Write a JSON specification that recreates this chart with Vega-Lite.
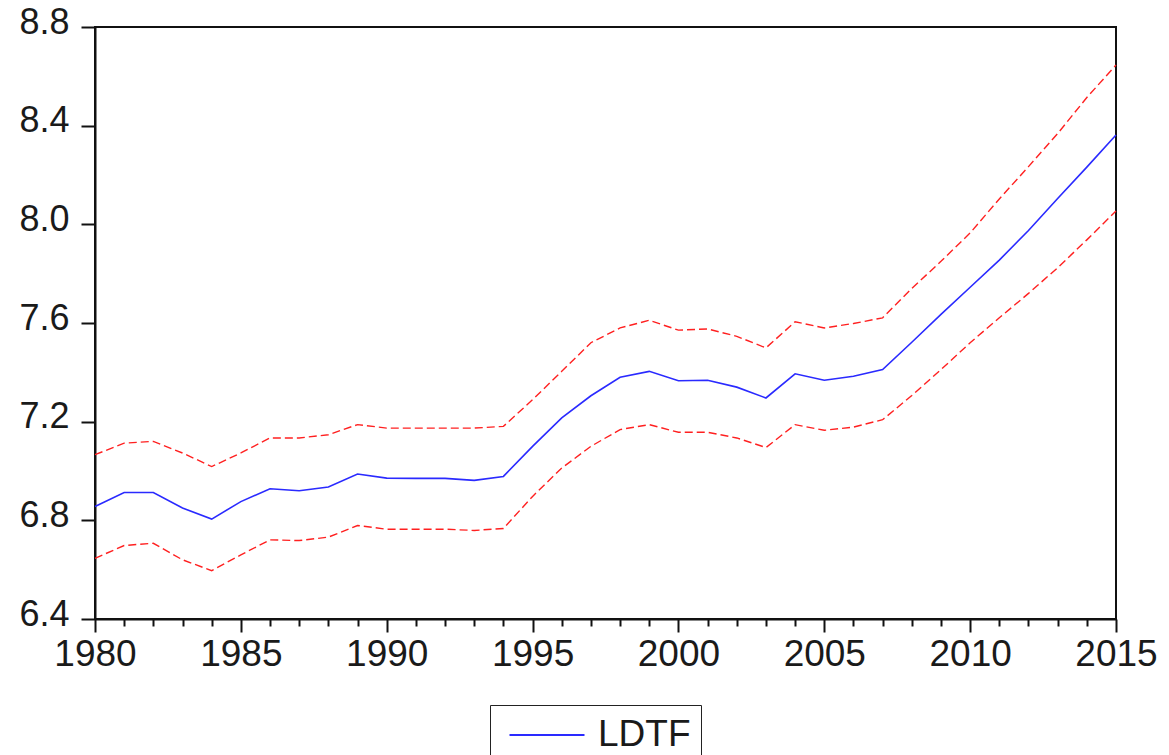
{
  "$schema": "https://vega.github.io/schema/vega-lite/v6.json",
  "autosize": {"type": "none"},
  "padding": {"left": 95, "top": 27, "right": 53, "bottom": 136},
  "width": 1021,
  "height": 592,
  "background": "white",
  "config": {
    "font": "Liberation Sans",
    "view": {"stroke": "#111111", "strokeWidth": 2},
    "axis": {
      "grid": false,
      "ticks": true,
      "domainColor": "#111111",
      "domainWidth": 2,
      "tickColor": "#111111",
      "tickWidth": 2,
      "labelColor": "#1a1a1a",
      "labelFont": "Liberation Sans",
      "title": null
    }
  },
  "data": {
    "values": [
      {"year": 1980, "ldtf": 6.856, "upper": 7.066, "lower": 6.646},
      {"year": 1981, "ldtf": 6.913, "upper": 7.113, "lower": 6.698},
      {"year": 1982, "ldtf": 6.913, "upper": 7.120, "lower": 6.707},
      {"year": 1983, "ldtf": 6.850, "upper": 7.073, "lower": 6.640},
      {"year": 1984, "ldtf": 6.805, "upper": 7.018, "lower": 6.596},
      {"year": 1985, "ldtf": 6.876, "upper": 7.073, "lower": 6.660},
      {"year": 1986, "ldtf": 6.928, "upper": 7.134, "lower": 6.721},
      {"year": 1987, "ldtf": 6.920, "upper": 7.134, "lower": 6.718},
      {"year": 1988, "ldtf": 6.935, "upper": 7.147, "lower": 6.732},
      {"year": 1989, "ldtf": 6.988, "upper": 7.188, "lower": 6.779},
      {"year": 1990, "ldtf": 6.971, "upper": 7.174, "lower": 6.764},
      {"year": 1991, "ldtf": 6.970, "upper": 7.174, "lower": 6.764},
      {"year": 1992, "ldtf": 6.970, "upper": 7.174, "lower": 6.764},
      {"year": 1993, "ldtf": 6.962, "upper": 7.174, "lower": 6.759},
      {"year": 1994, "ldtf": 6.978, "upper": 7.181, "lower": 6.767},
      {"year": 1995, "ldtf": 7.100, "upper": 7.289, "lower": 6.897},
      {"year": 1996, "ldtf": 7.215, "upper": 7.404, "lower": 7.012},
      {"year": 1997, "ldtf": 7.305, "upper": 7.520, "lower": 7.100},
      {"year": 1998, "ldtf": 7.380, "upper": 7.580, "lower": 7.168},
      {"year": 1999, "ldtf": 7.404, "upper": 7.611, "lower": 7.188},
      {"year": 2000, "ldtf": 7.366, "upper": 7.571, "lower": 7.157},
      {"year": 2001, "ldtf": 7.368, "upper": 7.576, "lower": 7.157},
      {"year": 2002, "ldtf": 7.340, "upper": 7.546, "lower": 7.134},
      {"year": 2003, "ldtf": 7.296, "upper": 7.499, "lower": 7.095},
      {"year": 2004, "ldtf": 7.394, "upper": 7.605, "lower": 7.188},
      {"year": 2005, "ldtf": 7.368, "upper": 7.580, "lower": 7.165},
      {"year": 2006, "ldtf": 7.384, "upper": 7.598, "lower": 7.178},
      {"year": 2007, "ldtf": 7.411, "upper": 7.621, "lower": 7.208},
      {"year": 2008, "ldtf": 7.522, "upper": 7.740, "lower": 7.306},
      {"year": 2009, "ldtf": 7.635, "upper": 7.850, "lower": 7.411},
      {"year": 2010, "ldtf": 7.745, "upper": 7.965, "lower": 7.520},
      {"year": 2011, "ldtf": 7.855, "upper": 8.103, "lower": 7.621},
      {"year": 2012, "ldtf": 7.975, "upper": 8.234, "lower": 7.720},
      {"year": 2013, "ldtf": 8.105, "upper": 8.368, "lower": 7.824},
      {"year": 2014, "ldtf": 8.232, "upper": 8.514, "lower": 7.937},
      {"year": 2015, "ldtf": 8.362, "upper": 8.646, "lower": 8.054}
    ]
  },
  "encoding": {
    "x": {
      "field": "year",
      "type": "quantitative",
      "scale": {"domain": [1980, 2015], "nice": false, "zero": false},
      "axis": {
        "values": [1980, 1981, 1982, 1983, 1984, 1985, 1986, 1987, 1988, 1989, 1990, 1991, 1992, 1993, 1994, 1995, 1996, 1997, 1998, 1999, 2000, 2001, 2002, 2003, 2004, 2005, 2006, 2007, 2008, 2009, 2010, 2011, 2012, 2013, 2014, 2015],
        "format": "d",
        "labelExpr": "datum.value % 5 === 0 ? datum.label : ''",
        "labelOverlap": false,
        "labelFontSize": 37,
        "labelPadding": 4,
        "labelFlush": false,
        "tickSize": {"condition": {"test": "datum.value % 5 === 0", "value": 13}, "value": 7}
      }
    }
  },
  "layer": [
    {
      "mark": {"type": "line", "color": "#ff2020", "strokeWidth": 1.4, "strokeDash": [8, 4]},
      "encoding": {
        "y": {
          "field": "upper",
          "type": "quantitative",
          "scale": {"domain": [6.4, 8.8], "nice": false, "zero": false},
          "axis": {
            "values": [6.4, 6.8, 7.2, 7.6, 8.0, 8.4, 8.8],
            "format": ".1f",
            "labelFontSize": 36,
            "labelPadding": 12,
            "labelOffset": -5,
            "tickSize": 14
          }
        }
      }
    },
    {
      "mark": {"type": "line", "color": "#ff2020", "strokeWidth": 1.4, "strokeDash": [8, 4]},
      "encoding": {"y": {"field": "lower", "type": "quantitative"}}
    },
    {
      "mark": {"type": "line", "strokeWidth": 1.6},
      "encoding": {
        "y": {"field": "ldtf", "type": "quantitative"},
        "color": {
          "datum": "LDTF",
          "scale": {"domain": ["LDTF"], "range": ["#2a2aff"]},
          "legend": {
            "title": null,
            "orient": "none",
            "legendX": 395,
            "legendY": 678,
            "padding": 10,
            "symbolOffset": 27,
            "symbolType": "M-2,0H2",
            "symbolSize": 1406,
            "symbolStrokeWidth": 2,
            "labelFontSize": 37,
            "labelOffset": 31,
            "labelColor": "#1a1a1a",
            "labelFont": "Liberation Sans",
            "labelExpr": "datum.label + '   '",
            "strokeColor": "#222222",
            "fillColor": "white"
          }
        }
      }
    }
  ]
}
